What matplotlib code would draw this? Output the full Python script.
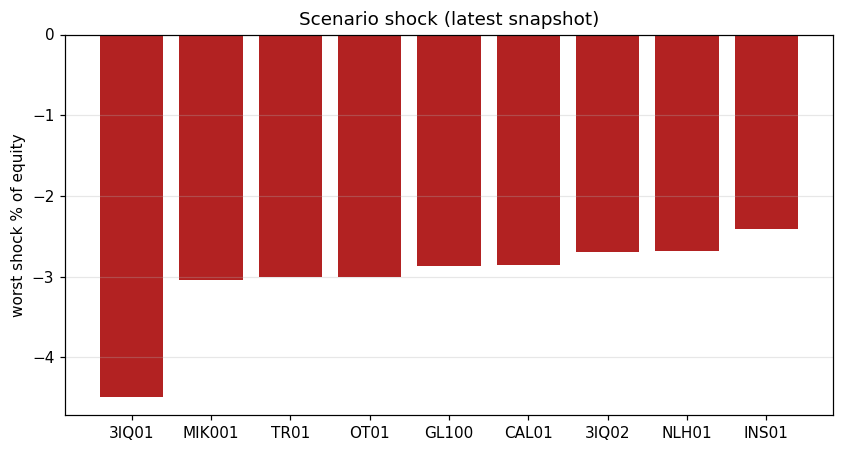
import matplotlib
matplotlib.use("Agg")
import matplotlib.pyplot as plt

categories = ["3IQ01", "MIK001", "TR01", "OT01", "GL100", "CAL01", "3IQ02", "NLH01", "INS01"]
values = [-4.49, -3.04, -3.01, -3.00, -2.87, -2.855, -2.69, -2.68, -2.41]

DPI = 110
fig, ax = plt.subplots(figsize=(843/DPI, 452/DPI), dpi=DPI)
fig.subplots_adjust(left=65/843, right=833/843, top=1-34.5/452, bottom=1-415/452)
ax.bar(categories, values, color="firebrick")
ax.set_title("Scenario shock (latest snapshot)")
ax.set_ylabel("worst shock % of equity")
ax.grid(axis="y", alpha=0.3)
fig.savefig("out.png", dpi=DPI)
